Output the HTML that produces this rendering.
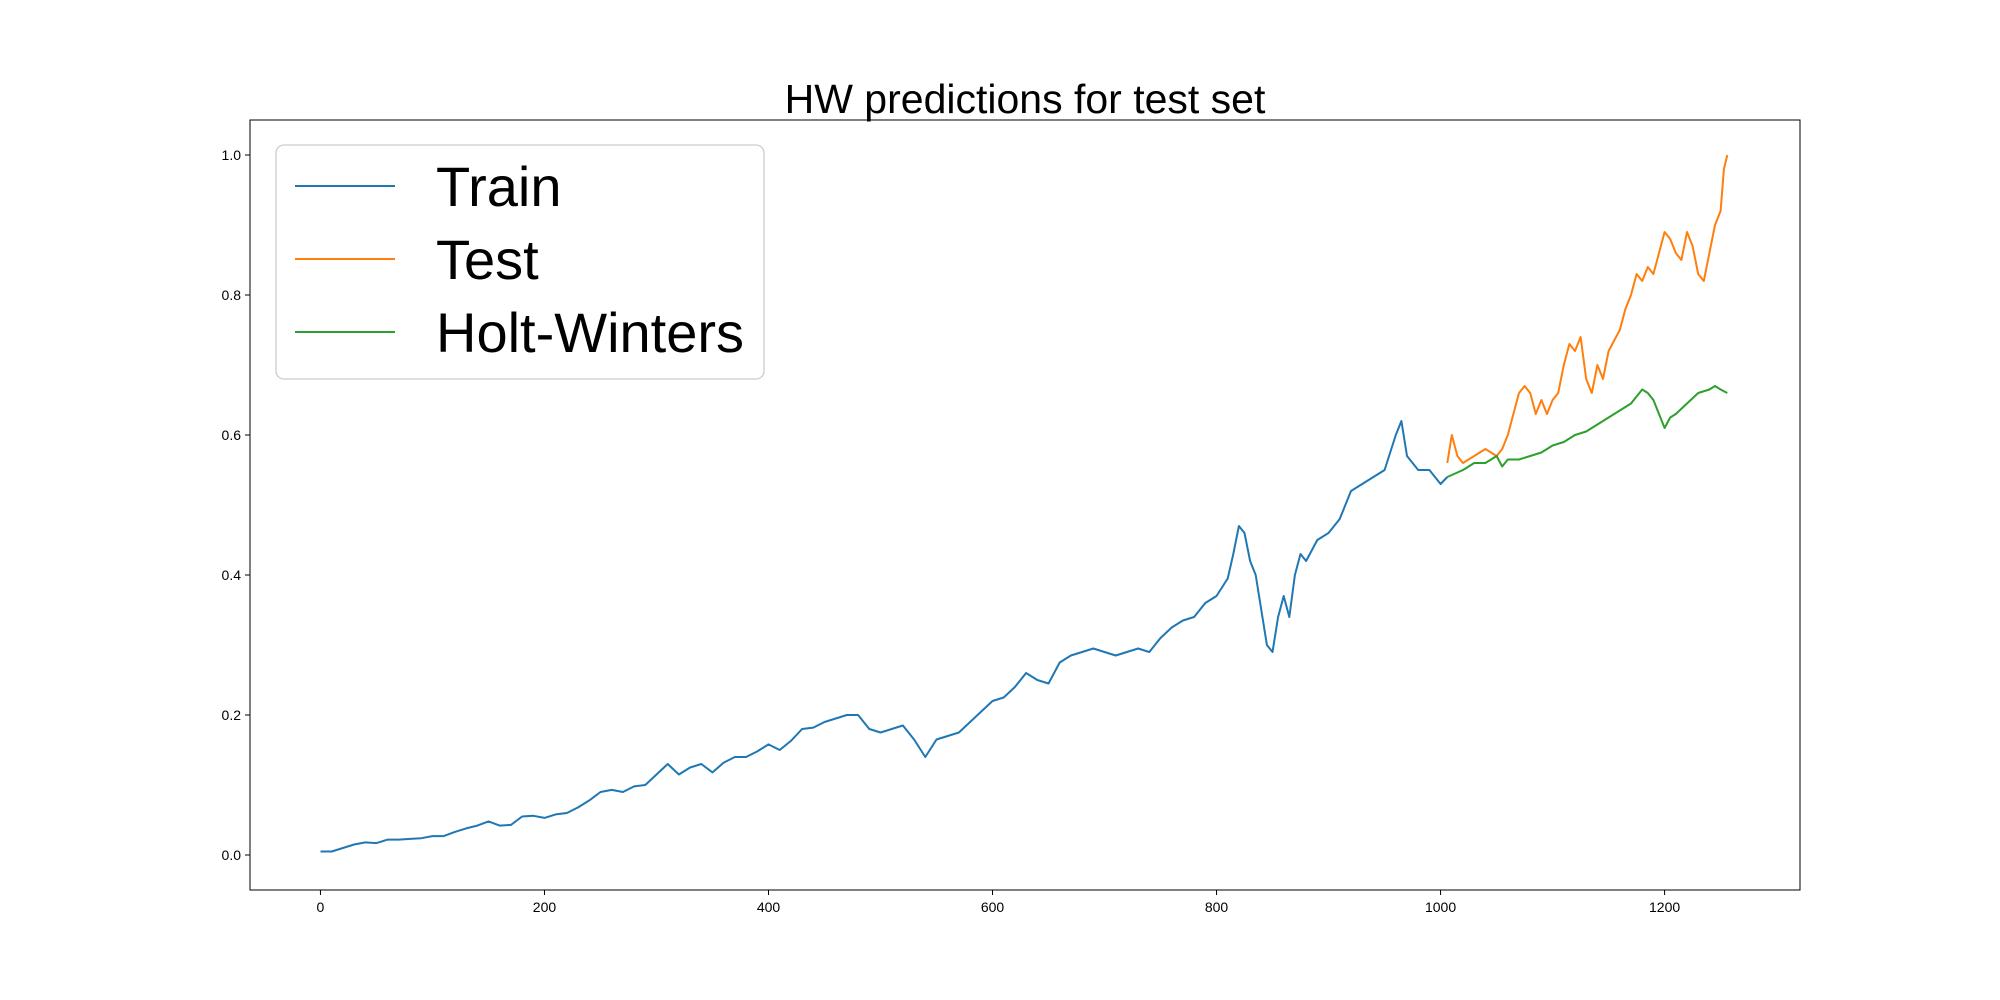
<!DOCTYPE html>
<html><head><meta charset="utf-8"><style>
html,body{margin:0;padding:0;background:#fff;}
svg{display:block;font-family:"Liberation Sans","DejaVu Sans",sans-serif;}
</style></head><body>
<svg id="chart" width="2000" height="1000" viewBox="0 0 2000 1000">
<rect width="2000" height="1000" fill="#fff"/>
<text x="1025" y="113" font-size="41" text-anchor="middle">HW predictions for test set</text>
<g id="series"></g>
<g id="ticks"></g>
<rect x="250" y="120" width="1550" height="770" fill="none" stroke="#000" stroke-width="1"/>
<g>
<rect x="276" y="145" width="488" height="234" rx="8" fill="#fff" fill-opacity="0.8" stroke="#ccc" stroke-width="1.3"/>
<line x1="295" y1="186" x2="395" y2="186" stroke="#1f77b4" stroke-width="2"/>
<text x="436" y="206" font-size="56">Train</text>
<line x1="295" y1="259" x2="395" y2="259" stroke="#ff7f0e" stroke-width="2"/>
<text x="436" y="279" font-size="56">Test</text>
<line x1="295" y1="332" x2="395" y2="332" stroke="#2ca02c" stroke-width="2"/>
<text x="436" y="352" font-size="56">Holt-Winters</text>
</g>
</svg>
<script>
const trainX=[0,10,20,30,40,50,60,70,80,90,100,110,120,130,140,150,160,170,180,190,200,210,220,230,240,250,260,270,280,290,300,310,320,330,340,350,360,370,380,390,400,410,420,430,440,450,460,470,480,490,500,510,520,530,540,550,560,570,580,590,600,610,620,630,640,650,660,670,680,690,700,710,720,730,740,750,760,770,780,790,800,810,815,820,825,830,835,840,845,850,855,860,865,870,875,880,890,900,910,920,930,940,950,960,965,970,980,990,1000,1006];
const trainY=[0.005,0.005,0.01,0.015,0.018,0.017,0.022,0.022,0.023,0.024,0.027,0.027,0.033,0.038,0.042,0.048,0.042,0.043,0.055,0.056,0.053,0.058,0.06,0.068,0.078,0.09,0.093,0.09,0.098,0.1,0.115,0.13,0.115,0.125,0.13,0.118,0.132,0.14,0.14,0.148,0.158,0.15,0.163,0.18,0.182,0.19,0.195,0.2,0.2,0.18,0.175,0.18,0.185,0.165,0.14,0.165,0.17,0.175,0.19,0.205,0.22,0.225,0.24,0.26,0.25,0.245,0.275,0.285,0.29,0.295,0.29,0.285,0.29,0.295,0.29,0.31,0.325,0.335,0.34,0.36,0.37,0.395,0.43,0.47,0.46,0.42,0.4,0.35,0.3,0.29,0.34,0.37,0.34,0.4,0.43,0.42,0.45,0.46,0.48,0.52,0.53,0.54,0.55,0.6,0.62,0.57,0.55,0.55,0.53,0.54];
const testX=[1006,1010,1015,1020,1030,1040,1050,1055,1060,1065,1070,1075,1080,1085,1090,1095,1100,1105,1110,1115,1120,1125,1130,1135,1140,1145,1150,1160,1165,1170,1175,1180,1185,1190,1195,1200,1205,1210,1215,1220,1225,1230,1235,1240,1245,1250,1253,1256];
const testY=[0.56,0.6,0.57,0.56,0.57,0.58,0.57,0.58,0.6,0.63,0.66,0.67,0.66,0.63,0.65,0.63,0.65,0.66,0.7,0.73,0.72,0.74,0.68,0.66,0.7,0.68,0.72,0.75,0.78,0.8,0.83,0.82,0.84,0.83,0.86,0.89,0.88,0.86,0.85,0.89,0.87,0.83,0.82,0.86,0.9,0.92,0.98,1.0];
const hwX=[1006,1020,1030,1040,1050,1055,1060,1070,1080,1090,1100,1110,1120,1130,1140,1150,1160,1170,1180,1185,1190,1195,1200,1205,1210,1220,1230,1240,1245,1250,1256];
const hwY=[0.54,0.55,0.56,0.56,0.57,0.555,0.565,0.565,0.57,0.575,0.585,0.59,0.6,0.605,0.615,0.625,0.635,0.645,0.665,0.66,0.65,0.63,0.61,0.625,0.63,0.645,0.66,0.665,0.67,0.665,0.66];
const xTicks=[0,200,400,600,800,1000,1200];
const yTicks=[0.0,0.2,0.4,0.6,0.8,1.0];

const X0=250,X1=1800,Y0=120,Y1=890,xmin=-62.9,xmax=1320.9,ymin=-0.05,ymax=1.05;
const sx=v=>X0+(v-xmin)/(xmax-xmin)*(X1-X0);
const sy=v=>Y1-(v-ymin)/(ymax-ymin)*(Y1-Y0);
const NS="http://www.w3.org/2000/svg";
const sg=document.getElementById('series'),tg=document.getElementById('ticks');
function line(xs,ys,color,name){
  const p=document.createElementNS(NS,'polyline');
  p.setAttribute('points',xs.map((x,i)=>sx(x).toFixed(1)+','+sy(ys[i]).toFixed(1)).join(' '));
  p.setAttribute('fill','none');p.setAttribute('stroke',color);p.setAttribute('stroke-width','2');p.setAttribute('stroke-linejoin','round');
  
  
  sg.appendChild(p);
}
line(trainX,trainY,'#1f77b4','train-line');
line(testX,testY,'#ff7f0e','test-line');
line(hwX,hwY,'#2ca02c','holt-winters-line');
xTicks.forEach(t=>{
  const l=document.createElementNS(NS,'line');
  l.setAttribute('x1',sx(t));l.setAttribute('x2',sx(t));l.setAttribute('y1',Y1);l.setAttribute('y2',Y1+5);l.setAttribute('stroke','#000');
  
  
  tg.appendChild(l);
  const tx=document.createElementNS(NS,'text');
  tx.setAttribute('x',sx(t));tx.setAttribute('y',Y1+22);tx.setAttribute('font-size','14');tx.setAttribute('text-anchor','middle');
  tx.textContent=String(t);
  
  
  tg.appendChild(tx);
});
yTicks.forEach(t=>{
  const l=document.createElementNS(NS,'line');
  l.setAttribute('x1',X0-5);l.setAttribute('x2',X0);l.setAttribute('y1',sy(t));l.setAttribute('y2',sy(t));l.setAttribute('stroke','#000');
  
  
  tg.appendChild(l);
  const tx=document.createElementNS(NS,'text');
  tx.setAttribute('x',X0-9);tx.setAttribute('y',sy(t)+5);tx.setAttribute('font-size','14');tx.setAttribute('text-anchor','end');
  tx.textContent=t.toFixed(1);
  
  
  tg.appendChild(tx);
});
</script>
</body></html>
